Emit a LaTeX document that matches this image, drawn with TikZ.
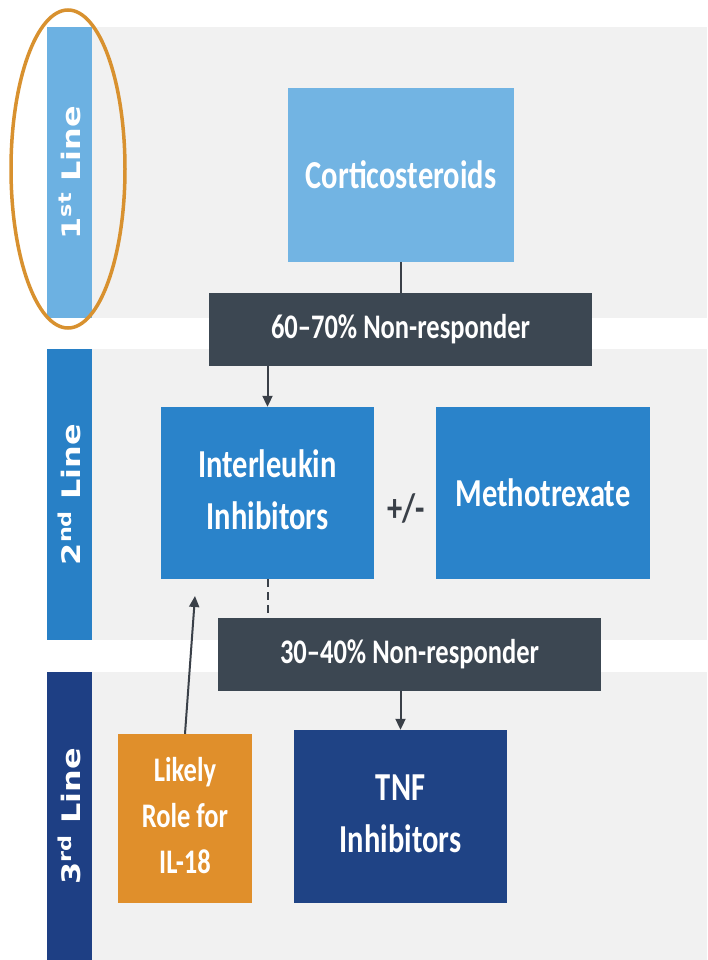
\documentclass[tikz,border=0pt]{standalone}
\usepackage{fontspec}
\usepackage{graphicx}
\setmainfont{Carlito}
\newfontfamily\sidefont{DejaVu Sans}
\usetikzlibrary{arrows.meta}

\definecolor{bandgray}{HTML}{F1F1F1}
\definecolor{lblue}{HTML}{72B4E3}
\definecolor{mblue}{HTML}{2A83CA}
\definecolor{dblue}{HTML}{1F4385}
\definecolor{barone}{HTML}{6CB1E2}
\definecolor{bartwo}{HTML}{2880C6}
\definecolor{barthree}{HTML}{1E3F84}
\definecolor{slate}{HTML}{3C4752}
\definecolor{orangebox}{HTML}{E08F2B}
\definecolor{ring}{HTML}{D8912F}
\definecolor{conn}{HTML}{3A4048}

\newcommand\vs[1]{\scalebox{1}[1.3]{#1}}
\newcommand\ml[1]{\begin{tabular}{@{}c@{}}#1\end{tabular}}
\newcommand\sidelab[1]{\rotatebox{90}{\scalebox{1.25}[1]{\sidefont\bfseries\fontsize{25.5}{28}\selectfont #1}}}

\begin{document}
\begin{tikzpicture}[x=1pt, y=-1pt,
  box/.style={rectangle, inner sep=0pt, text=white, align=center},
  bigtext/.style={font=\bfseries\fontsize{30.5}{40}\selectfont},
  midtext/.style={font=\bfseries\fontsize{26.5}{35}\selectfont},
  band/.style={fill=bandgray, draw=none},
  bar/.style={rectangle, inner sep=0pt, minimum width=45pt, text=white},
  link/.style={draw=conn, line width=2pt},
  arrow/.style={link, -{Triangle[length=11pt,width=10pt]}}]

\useasboundingbox (0,0) rectangle (707,960);
\fill[white] (0,0) rectangle (707,960);

% bands
\fill[band] (92,27) rectangle (707,318);
\fill[band] (92,349) rectangle (707,640);
\fill[band] (92,672) rectangle (707,960);

% side bars
\node[bar, fill=barone, minimum height=291pt] (bar1) at (69.5,172.5) {\sidelab{1\textsuperscript{st} Line}};
\node[bar, fill=bartwo, minimum height=291pt] (bar2) at (69.5,494.5) {\sidelab{2\textsuperscript{nd} Line}};
\node[bar, fill=barthree, minimum height=288pt] (bar3) at (69.5,816) {\sidelab{3\textsuperscript{rd} Line}};

% highlight ring
\draw[ring, line width=3.5pt] (68,169) ellipse [x radius=57pt, y radius=159pt];

% boxes
\node[box, bigtext, fill=lblue, minimum width=226pt, minimum height=174pt] (cort) at (401,175) {\vs{Corticosteroids}};
\node[box, midtext, fill=slate, minimum width=383pt, minimum height=73pt] (nr1) at (400.5,329.5) {\vs{60--70\% Non-responder}};
\node[box, bigtext, fill=mblue, minimum width=213pt, minimum height=172pt] (il) at (267.5,493) {\vs{\ml{Interleukin\\Inhibitors}}};
\node[box, bigtext, fill=mblue, minimum width=214pt, minimum height=172pt] (mtx) at (543,493) {\vs{Methotrexate}};
\node[inner sep=0pt, text=conn, bigtext] (pm) at (406,508) {\vs{+/-}};
\node[box, midtext, fill=slate, minimum width=383pt, minimum height=73pt] (nr2) at (409.5,654.5) {\vs{30--40\% Non-responder}};
\node[box, bigtext, fill=dblue, minimum width=213pt, minimum height=173pt] (tnf) at (400.5,816.5) {\vs{\ml{TNF\\Inhibitors}}};
\node[box, font=\bfseries\fontsize{26.5}{35.4}\selectfont, fill=orangebox, minimum width=134pt, minimum height=169pt] (il18) at (185,818.5) {\vs{\ml{Likely\\Role for\\IL-18}}};

% connectors
\draw[link] (cort.south) -- (cort.south |- nr1.north);
\draw[arrow] (il.north |- nr1.south) -- (il.north);
\draw[link, dash pattern=on 8pt off 5pt] (il.south) -- (il.south |- nr2.north);
\draw[arrow] (tnf.north |- nr2.south) -- (tnf.north);
\coordinate (iltip) at (195,596);
\draw[arrow] (il18.north) -- (iltip);
\end{tikzpicture}
\end{document}
